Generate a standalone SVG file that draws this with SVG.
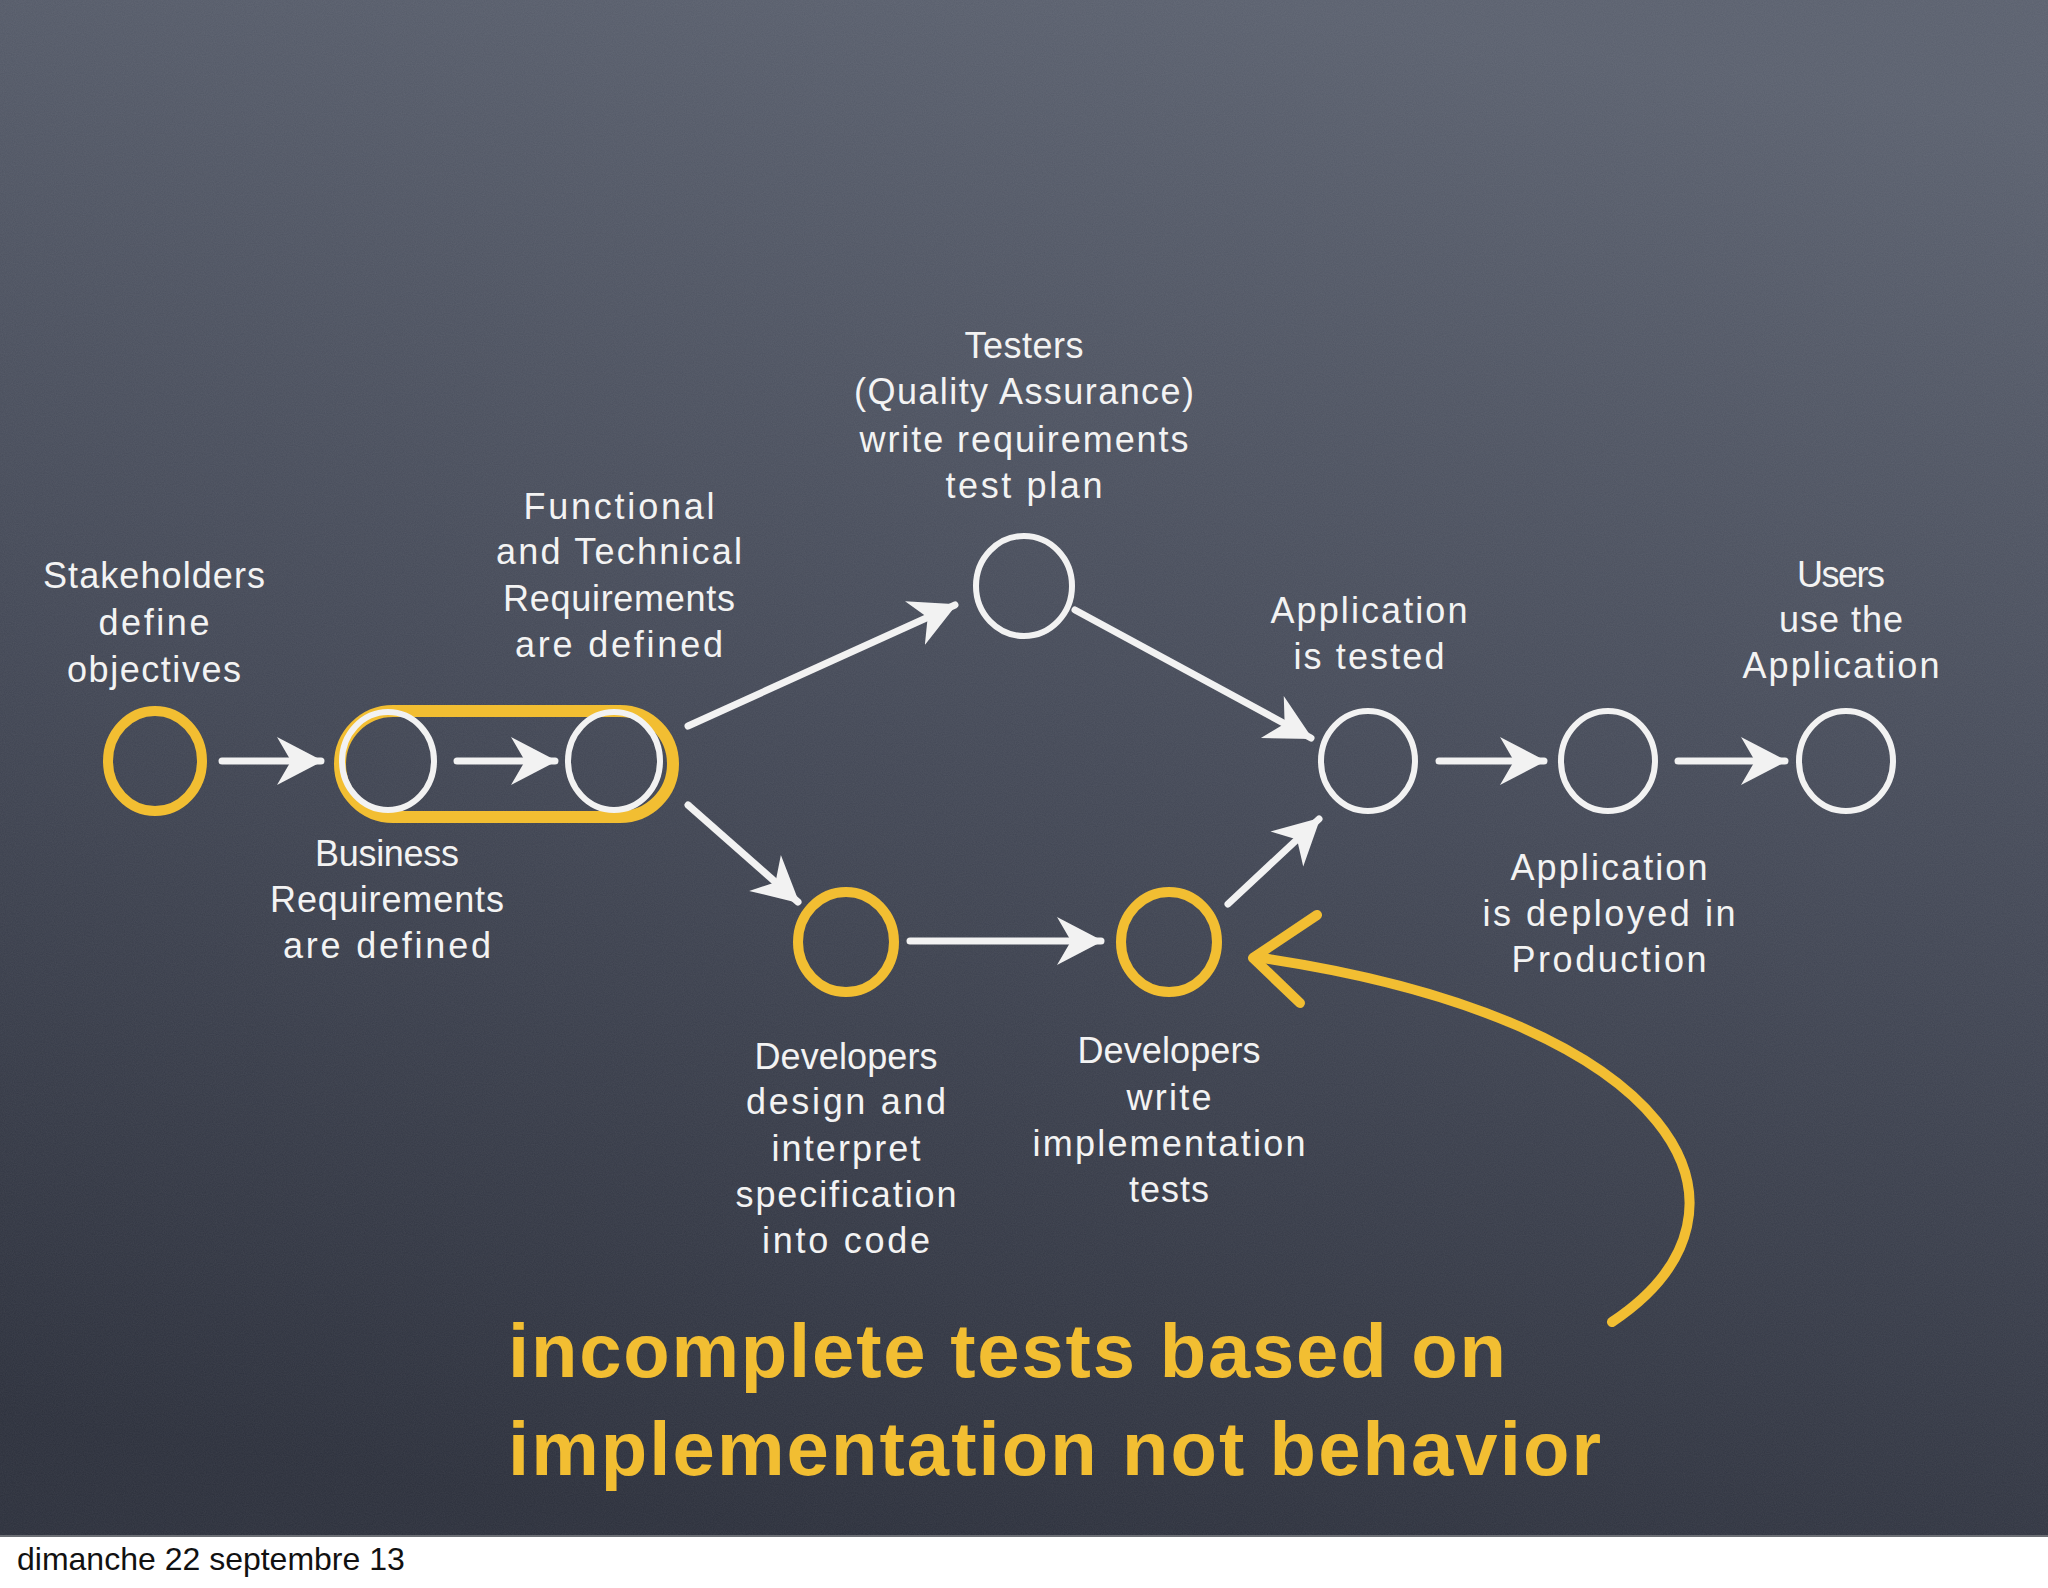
<svg xmlns="http://www.w3.org/2000/svg" width="2048" height="1588" viewBox="0 0 2048 1588">
<defs>
  <linearGradient id="board" x1="0.6" y1="0" x2="0.4" y2="1">
    <stop offset="0" stop-color="#5a606e"/>
    <stop offset="0.5" stop-color="#434856"/>
    <stop offset="1" stop-color="#2c303c"/>
  </linearGradient>
  <filter id="noise" x="0" y="0" width="100%" height="100%">
    <feTurbulence type="fractalNoise" baseFrequency="0.9" numOctaves="2" seed="3"/>
    <feColorMatrix type="matrix" values="0 0 0 0 1  0 0 0 0 1  0 0 0 0 1  0 0 0 0.07 0"/>
  </filter>
  <marker id="ah" viewBox="0 0 46 52" refX="44" refY="26" markerWidth="46" markerHeight="52" markerUnits="userSpaceOnUse" orient="auto">
    <path d="M0,2 L46,26 L0,50 L14,26 Z" fill="#f2f2f2"/>
  </marker>
  <style>
    .lbl { font-family: "Liberation Sans", Arial, sans-serif; font-size: 36px; fill: #f3f3f3; text-anchor: middle; }
    .big { font-family: "Liberation Sans", Arial, sans-serif; font-size: 76px; font-weight: bold; fill: #f2be32; }
    .wc { fill: none; stroke: #f2f2f2; stroke-width: 6; }
    .yc { fill: none; stroke: #f2be32; stroke-width: 10; }
    .conn { fill: none; stroke: #f2f2f2; stroke-width: 7; stroke-linecap: round; marker-end: url(#ah); }
    .yconn { fill: none; stroke: #f2be32; stroke-width: 10; stroke-linecap: round; stroke-linejoin: round; }
  </style>
</defs>

<rect x="0" y="0" width="2048" height="1536" fill="url(#board)"/>
<rect x="0" y="0" width="2048" height="1536" filter="url(#noise)"/>
<rect x="0" y="1536" width="2048" height="52" fill="#ffffff"/>
<line x1="0" y1="1536" x2="2048" y2="1536" stroke="#6b6e74" stroke-width="2"/>
<text x="17" y="1570" style="font-family:'Liberation Sans', Arial, sans-serif; font-size:32px; fill:#111111;">dimanche 22 septembre 13</text>

<g id="connectors">
  <line class="conn" x1="222" y1="761" x2="321" y2="761"/>
  <line class="conn" x1="457" y1="761" x2="555" y2="761"/>
  <line class="conn" x1="688" y1="726" x2="955" y2="605"/>
  <line class="conn" x1="688" y1="805" x2="798" y2="902"/>
  <line class="conn" x1="1075" y1="610" x2="1311" y2="738"/>
  <line class="conn" x1="910" y1="941" x2="1101" y2="941"/>
  <line class="conn" x1="1228" y1="904" x2="1319" y2="819"/>
  <line class="conn" x1="1439" y1="761" x2="1544" y2="761"/>
  <line class="conn" x1="1678" y1="761" x2="1785" y2="761"/>
  <path class="yconn" d="M1612,1322 C1780,1210 1680,1020 1262,958"/>
  <path class="yconn" stroke-width="12" d="M1317,915 L1253,958 L1300,1003"/>
</g>

<g id="group-requirements">
  <rect x="340" y="711" width="333" height="106" rx="53" ry="53" fill="none" stroke="#f2be32" stroke-width="12"/>
</g>

<g id="node-stakeholders">
  <ellipse class="yc" cx="155" cy="761" rx="47" ry="50"/>
  <text class="lbl" x="154" y="588" textLength="222" lengthAdjust="spacing">Stakeholders</text>
  <text class="lbl" x="154" y="635" textLength="111" lengthAdjust="spacing">define</text>
  <text class="lbl" x="154" y="682" textLength="174" lengthAdjust="spacing">objectives</text>
</g>

<g id="node-business">
  <ellipse class="wc" cx="388" cy="761" rx="46" ry="49"/>
  <text class="lbl" x="387" y="866" textLength="144" lengthAdjust="spacing">Business</text>
  <text class="lbl" x="387" y="912" textLength="234" lengthAdjust="spacing">Requirements</text>
  <text class="lbl" x="387" y="958" textLength="208" lengthAdjust="spacing">are defined</text>
</g>

<g id="node-functional">
  <ellipse class="wc" cx="614" cy="761" rx="46" ry="49"/>
  <text class="lbl" x="619" y="519" textLength="191" lengthAdjust="spacing">Functional</text>
  <text class="lbl" x="619" y="564" textLength="246" lengthAdjust="spacing">and Technical</text>
  <text class="lbl" x="619" y="611" textLength="232" lengthAdjust="spacing">Requirements</text>
  <text class="lbl" x="619" y="657" textLength="208" lengthAdjust="spacing">are defined</text>
</g>

<g id="node-testers">
  <ellipse class="wc" cx="1024" cy="586" rx="48" ry="50"/>
  <text class="lbl" x="1024" y="358" textLength="119" lengthAdjust="spacing">Testers</text>
  <text class="lbl" x="1024" y="404" textLength="340" lengthAdjust="spacing">(Quality Assurance)</text>
  <text class="lbl" x="1024" y="452" textLength="329" lengthAdjust="spacing">write requirements</text>
  <text class="lbl" x="1024" y="498" textLength="157" lengthAdjust="spacing">test plan</text>
</g>

<g id="node-dev-design">
  <ellipse class="yc" cx="846" cy="942" rx="48" ry="50"/>
  <text class="lbl" x="846" y="1069" textLength="183" lengthAdjust="spacing">Developers</text>
  <text class="lbl" x="846" y="1114" textLength="200" lengthAdjust="spacing">design and</text>
  <text class="lbl" x="846" y="1161" textLength="149" lengthAdjust="spacing">interpret</text>
  <text class="lbl" x="846" y="1207" textLength="221" lengthAdjust="spacing">specification</text>
  <text class="lbl" x="846" y="1253" textLength="168" lengthAdjust="spacing">into code</text>
</g>

<g id="node-dev-tests">
  <ellipse class="yc" cx="1169" cy="942" rx="48" ry="50"/>
  <text class="lbl" x="1169" y="1063" textLength="183" lengthAdjust="spacing">Developers</text>
  <text class="lbl" x="1169" y="1110" textLength="85" lengthAdjust="spacing">write</text>
  <text class="lbl" x="1169" y="1156" textLength="273" lengthAdjust="spacing">implementation</text>
  <text class="lbl" x="1169" y="1202" textLength="80" lengthAdjust="spacing">tests</text>
</g>

<g id="node-app-tested">
  <ellipse class="wc" cx="1368" cy="761" rx="47" ry="50"/>
  <text class="lbl" x="1369" y="623" textLength="197" lengthAdjust="spacing">Application</text>
  <text class="lbl" x="1369" y="669" textLength="151" lengthAdjust="spacing">is tested</text>
</g>

<g id="node-deployed">
  <ellipse class="wc" cx="1608" cy="761" rx="47" ry="50"/>
  <text class="lbl" x="1609" y="880" textLength="197" lengthAdjust="spacing">Application</text>
  <text class="lbl" x="1609" y="926" textLength="253" lengthAdjust="spacing">is deployed in</text>
  <text class="lbl" x="1609" y="972" textLength="195" lengthAdjust="spacing">Production</text>
</g>

<g id="node-users">
  <ellipse class="wc" cx="1846" cy="761" rx="47" ry="50"/>
  <text class="lbl" x="1841" y="587" textLength="88" lengthAdjust="spacing">Users</text>
  <text class="lbl" x="1841" y="632" textLength="124" lengthAdjust="spacing">use the</text>
  <text class="lbl" x="1841" y="678" textLength="197" lengthAdjust="spacing">Application</text>
</g>

<g id="note">
  <text class="big" x="508" y="1377" textLength="998" lengthAdjust="spacing">incomplete tests based on</text>
  <text class="big" x="508" y="1475" textLength="1093" lengthAdjust="spacing">implementation not behavior</text>
</g>
</svg>
